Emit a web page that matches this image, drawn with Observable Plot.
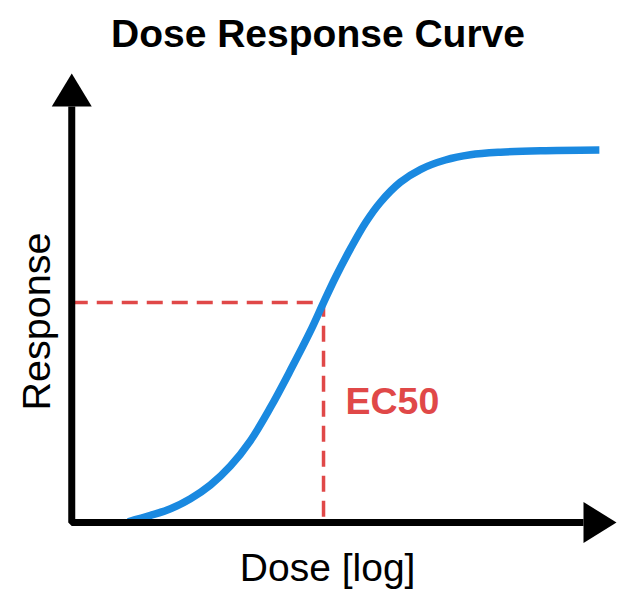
<!DOCTYPE html>
<html>
<head>
<meta charset="utf-8">
<script src="https://cdn.jsdelivr.net/npm/d3@7"></script>
<script src="https://cdn.jsdelivr.net/npm/@observablehq/plot@0.6"></script>
<style>
  html, body { margin: 0; padding: 0; background: #fff; }
  #title { height: 62px; line-height: 67px; text-align: center; font-family: "Liberation Sans", Arial, sans-serif; font-weight: bold; font-size: 39px; color: #000; white-space: nowrap; }
  #chart svg { display: block; }
</style>
</head>
<body>
<div id="title">Dose Response Curve</div>
<div id="chart"></div>
<script>
// ---- data ----
const xDomain = [0, 10];        // log dose
const yDomain = [0, 112];       // response
const logDose  = [1.10, 1.54, 1.93, 2.32, 2.71, 3.10, 3.49, 3.88, 4.27, 4.67, 4.92, 5.15, 5.45, 5.74, 6.03, 6.42, 6.82, 7.30, 7.79, 8.38, 9.16, 10.31];
const response = [0.2, 1.9, 3.7, 6.4, 10.1, 15.2, 22.0, 30.9, 40.9, 51.7, 59.2, 65.9, 73.8, 80.7, 86.2, 91.6, 95.1, 97.6, 99.0, 99.7, 100.1, 100.3];
const ec50Index = 10;
const labels = { x: "Dose [log]", y: "Response", ec50: "EC50" };

// ---- derived tables ----
const curve = logDose.map((x, i) => ({x, y: response[i]}));
const ec50 = curve[ec50Index];
const guide = [{x: xDomain[0], y: ec50.y}, {x: ec50.x, y: ec50.y}, {x: ec50.x, y: yDomain[0]}];
const axisPath = [{x: xDomain[0], y: yDomain[1]}, {x: xDomain[0], y: yDomain[0]}, {x: xDomain[1], y: yDomain[0]}];

const upHead = {draw(ctx) { ctx.moveTo(-20, 0); ctx.lineTo(0, -33); ctx.lineTo(20, 0); ctx.closePath(); }};
const rightHead = {draw(ctx) { ctx.moveTo(0, -20.5); ctx.lineTo(33, 0); ctx.lineTo(0, 20.5); ctx.closePath(); }};

const red = "#e04848", blue = "#1a89e0";
const font = "Liberation Sans, Arial, sans-serif";

const chart = Plot.plot({
  width: 636,
  height: 549,
  marginLeft: 71.25,
  marginRight: 53,
  marginTop: 44,
  marginBottom: 89,
  x: {domain: xDomain, axis: null},
  y: {domain: yDomain, axis: null},
  style: {fontFamily: font, background: "white", overflow: "visible"},
  marks: [
    Plot.line(guide, {x: "x", y: "y", stroke: red, strokeWidth: 3.5, strokeDasharray: "16,9", strokeLinecap: "butt"}),
    Plot.line(curve, {x: "x", y: "y", stroke: blue, strokeWidth: 7.5, curve: "catmull-rom", strokeLinecap: "butt"}),
    Plot.line(axisPath, {x: "x", y: "y", stroke: "black", strokeWidth: 7, strokeLinejoin: "miter", strokeLinecap: "butt"}),
    Plot.dot([axisPath[0]], {x: "x", y: "y", symbol: upHead, fill: "black", stroke: "none"}),
    Plot.dot([axisPath[2]], {x: "x", y: "y", symbol: rightHead, fill: "black", stroke: "none"}),
    Plot.text([labels.ec50], {x: ec50.x, y: ec50.y / 2, text: d => d, textAnchor: "start", lineAnchor: "bottom", dx: 22, dy: 1, fill: red, fontSize: 37.5, fontWeight: "bold"}),
    Plot.text([labels.x], {frameAnchor: "bottom", text: d => d, textAnchor: "middle", lineAnchor: "bottom", dy: 58, fill: "black", fontSize: 39}),
    Plot.text([labels.y], {frameAnchor: "left", text: d => d, rotate: -90, textAnchor: "middle", lineAnchor: "bottom", dx: -22, dy: 7, fill: "black", fontSize: 39.5})
  ]
});
document.getElementById("chart").appendChild(chart);
</script>
</body>
</html>
